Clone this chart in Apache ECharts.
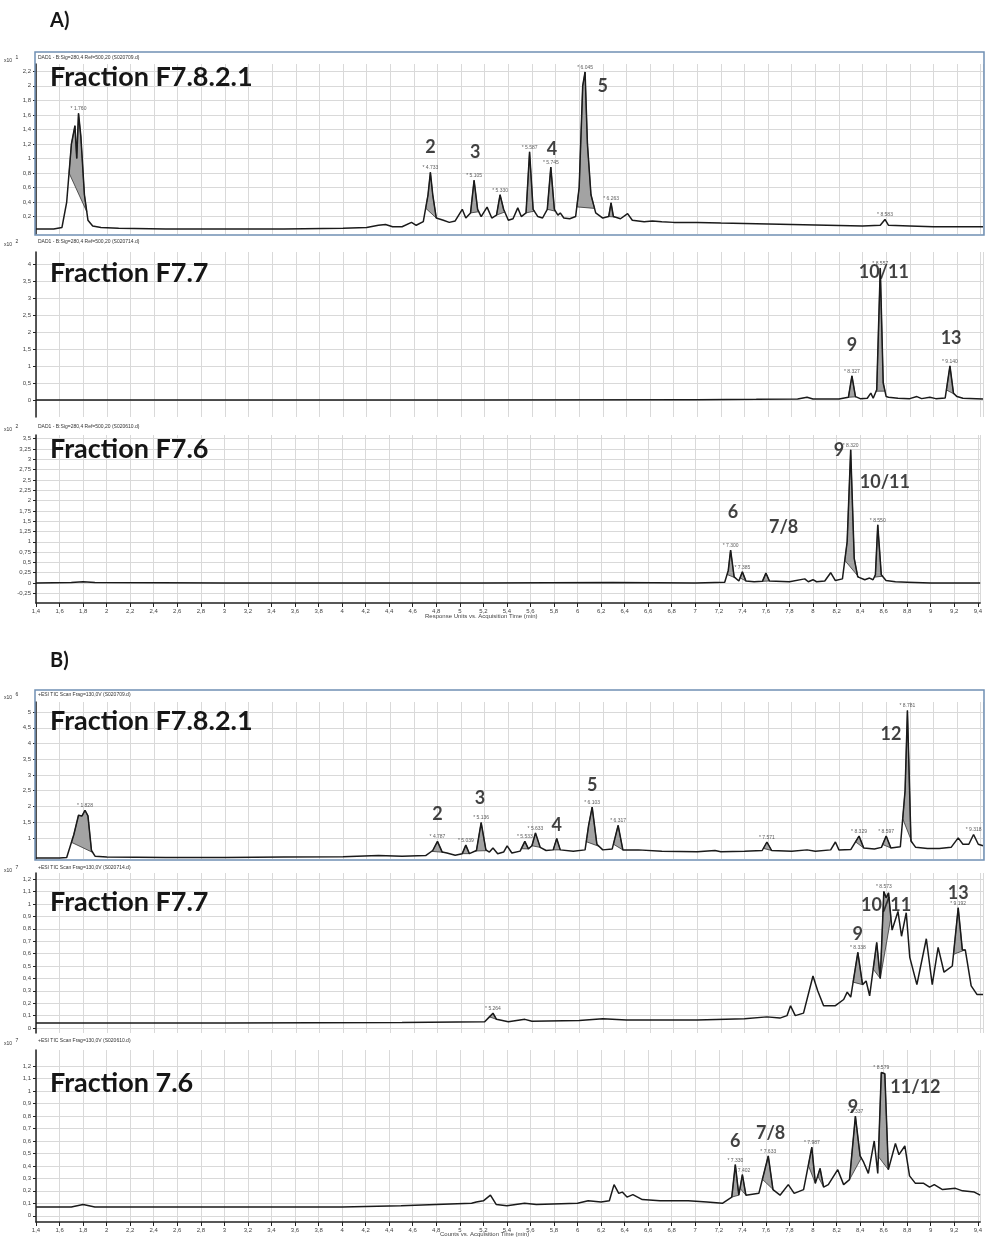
<!DOCTYPE html>
<html><head><meta charset="utf-8">
<script src="https://cdn.jsdelivr.net/npm/echarts@6/dist/echarts.min.js"></script>
<style>html,body{margin:0;padding:0;background:#fff}#c{width:985px;height:1239px}</style>
</head><body><div id="c"></div>
<script>
// ---------- DATA (time in min, signal in axis units) ----------
const xTicksMin = 1.4, xTicksMax = 9.42;

const a1Trace = [[1.40,0.03],[1.55,0.03],[1.62,0.05],[1.66,0.40],[1.70,1.20],[1.73,1.45],[1.745,1.00],[1.76,1.62],[1.78,1.30],[1.81,0.50],[1.84,0.15],[1.88,0.07],[1.95,0.05],[2.10,0.04],[2.50,0.03],[3.00,0.03],[3.50,0.03],[4.00,0.04],[4.20,0.05],[4.30,0.08],[4.36,0.09],[4.42,0.06],[4.50,0.06],[4.58,0.12],[4.62,0.08],[4.68,0.13],[4.72,0.50],[4.74,0.81],[4.76,0.50],[4.79,0.18],[4.85,0.15],[4.90,0.12],[4.95,0.14],[5.01,0.30],[5.04,0.18],[5.08,0.25],[5.11,0.70],[5.14,0.30],[5.17,0.20],[5.22,0.33],[5.26,0.18],[5.30,0.22],[5.33,0.50],[5.36,0.30],[5.40,0.15],[5.44,0.17],[5.48,0.32],[5.51,0.20],[5.55,0.25],[5.58,1.09],[5.61,0.30],[5.65,0.20],[5.69,0.18],[5.73,0.30],[5.76,0.88],[5.79,0.30],[5.82,0.22],[5.84,0.25],[5.87,0.18],[5.92,0.17],[5.97,0.20],[6.00,0.60],[6.03,2.00],[6.05,2.19],[6.07,1.20],[6.10,0.50],[6.14,0.25],[6.20,0.18],[6.25,0.20],[6.27,0.39],[6.29,0.20],[6.35,0.17],[6.41,0.24],[6.45,0.15],[6.55,0.13],[6.62,0.14],[6.70,0.13],[6.80,0.12],[7.00,0.12],[7.20,0.11],[7.50,0.10],[7.80,0.09],[8.10,0.08],[8.40,0.07],[8.55,0.08],[8.59,0.16],[8.62,0.08],[8.80,0.07],[9.00,0.06],[9.20,0.06],[9.42,0.06]];
const a1Fills = [[1.68,1.83],[4.70,4.79],[5.08,5.15],[5.30,5.37],[5.55,5.62],[5.73,5.80],[5.98,6.13],[6.25,6.30]];
const a1Rt = [[1.76,1.62,'1.760'],[4.74,0.81,'4.733'],[5.11,0.70,'5.105'],[5.33,0.50,'5.330'],[5.58,1.09,'5.587'],[5.76,0.88,'5.745'],[6.05,2.19,'6.045'],[6.27,0.39,'6.263'],[8.59,0.16,'8.583']];
const a1Names = [[4.74,1.16,'2'],[5.12,1.09,'3'],[5.77,1.13,'4'],[6.20,1.99,'5']];

const a2Trace = [[1.40,0.00],[3.00,0.00],[5.00,0.00],[7.00,0.01],[7.50,0.02],[7.85,0.03],[7.93,0.08],[7.98,0.03],[8.20,0.03],[8.28,0.08],[8.31,0.71],[8.34,0.10],[8.38,0.04],[8.44,0.05],[8.47,0.20],[8.49,0.05],[8.52,0.30],[8.55,3.88],[8.575,0.50],[8.60,0.10],[8.62,0.08],[8.70,0.05],[8.80,0.04],[8.86,0.10],[8.90,0.04],[8.97,0.08],[9.02,0.04],[9.10,0.06],[9.14,1.00],[9.17,0.20],[9.20,0.10],[9.25,0.05],[9.42,0.03]];
const a2Fills = [[8.28,8.345],[8.515,8.59],[9.11,9.18]];
const a2Rt = [[8.31,0.71,'8.327'],[8.55,3.88,'8.557'],[9.14,1.00,'9.140']];
const a2Names = [[8.31,1.60,'9'],[8.58,3.76,'10/11'],[9.15,1.82,'13']];

const a3Trace = [[1.40,0.00],[1.70,0.01],[1.80,0.03],[1.90,0.01],[3.00,0.00],[5.20,0.00],[6.30,0.01],[7.00,0.00],[7.25,0.02],[7.28,0.30],[7.30,0.80],[7.33,0.15],[7.37,0.05],[7.40,0.27],[7.43,0.05],[7.50,0.03],[7.57,0.04],[7.60,0.24],[7.63,0.05],[7.80,0.03],[7.93,0.10],[7.96,0.03],[8.00,0.08],[8.03,0.03],[8.10,0.05],[8.15,0.25],[8.19,0.06],[8.25,0.10],[8.29,1.00],[8.32,3.23],[8.35,0.60],[8.38,0.15],[8.44,0.08],[8.48,0.12],[8.51,0.08],[8.53,0.20],[8.55,1.41],[8.58,0.20],[8.62,0.06],[8.70,0.03],[8.80,0.02],[9.00,0.00],[9.42,0.00]];
const a3Fills = [[7.27,7.34],[7.38,7.43],[7.57,7.63],[8.27,8.39],[8.52,8.59]];
const a3Rt = [[7.30,0.80,'7.300'],[7.40,0.27,'7.385'],[8.32,3.23,'8.320'],[8.55,1.41,'8.550']];
const a3Names = [[7.32,1.72,'6'],[7.75,1.36,'7/8'],[8.22,3.23,'9'],[8.61,2.45,'10/11']];

const b1Trace = [[1.40,0.36],[1.60,0.36],[1.66,0.38],[1.72,1.10],[1.76,1.72],[1.79,1.70],[1.815,1.88],[1.84,1.70],[1.87,0.60],[1.90,0.42],[2.00,0.39],[2.50,0.38],[3.00,0.38],[3.50,0.39],[4.00,0.40],[4.30,0.44],[4.50,0.42],[4.70,0.44],[4.76,0.60],[4.80,0.89],[4.84,0.55],[4.88,0.52],[4.95,0.45],[5.01,0.50],[5.04,0.77],[5.07,0.50],[5.13,0.60],[5.17,1.49],[5.21,0.62],[5.24,0.55],[5.27,0.68],[5.31,0.50],[5.36,0.55],[5.39,0.75],[5.43,0.52],[5.50,0.58],[5.54,0.89],[5.57,0.65],[5.60,0.75],[5.63,1.16],[5.67,0.70],[5.72,0.60],[5.78,0.62],[5.81,0.98],[5.84,0.62],[5.95,0.58],[6.05,0.62],[6.08,1.40],[6.11,1.98],[6.15,0.80],[6.20,0.62],[6.28,0.65],[6.33,1.40],[6.37,0.62],[6.50,0.62],[6.70,0.58],[7.00,0.56],[7.15,0.60],[7.20,0.56],[7.40,0.58],[7.55,0.60],[7.59,0.87],[7.63,0.60],[7.80,0.58],[7.93,0.62],[8.00,0.58],[8.13,0.62],[8.17,0.87],[8.20,0.62],[8.30,0.63],[8.37,1.06],[8.41,0.68],[8.50,0.65],[8.56,0.70],[8.60,1.06],[8.64,0.68],[8.72,0.72],[8.76,2.50],[8.78,5.05],[8.81,0.90],[8.85,0.70],[8.95,0.66],[9.05,0.66],[9.15,0.70],[9.21,1.00],[9.25,0.80],[9.30,0.80],[9.34,1.11],[9.38,0.80],[9.42,0.75]];
const b1Fills = [[1.70,1.88],[4.75,4.85],[5.01,5.07],[5.12,5.22],[5.51,5.57],[5.60,5.67],[5.78,5.84],[6.06,6.17],[6.29,6.37],[7.56,7.63],[8.34,8.41],[8.57,8.64],[8.74,8.82]];
const b1Rt = [[1.815,1.88,'1.828'],[4.80,0.89,'4.787'],[5.04,0.77,'5.039'],[5.17,1.49,'5.136'],[5.54,0.89,'5.533'],[5.63,1.16,'5.633'],[6.11,1.98,'6.103'],[6.33,1.40,'6.317'],[7.59,0.87,'7.571'],[8.37,1.06,'8.329'],[8.60,1.06,'8.597'],[8.78,5.05,'8.781'],[9.34,1.11,'9.318']];
const b1Names = [[4.80,1.77,'2'],[5.16,2.27,'3'],[5.81,1.40,'4'],[6.11,2.67,'5'],[8.64,4.31,'12']];

const b2Trace = [[1.40,0.04],[3.00,0.04],[4.50,0.045],[5.20,0.05],[5.24,0.09],[5.27,0.12],[5.30,0.07],[5.40,0.05],[5.54,0.07],[5.60,0.055],[6.00,0.06],[6.20,0.075],[6.40,0.065],[7.00,0.065],[7.40,0.075],[7.59,0.09],[7.70,0.08],[7.76,0.10],[7.79,0.18],[7.83,0.10],[7.90,0.12],[7.98,0.42],[8.02,0.30],[8.07,0.18],[8.17,0.18],[8.24,0.23],[8.27,0.29],[8.30,0.25],[8.36,0.61],[8.40,0.35],[8.43,0.38],[8.46,0.26],[8.52,0.69],[8.55,0.40],[8.58,1.10],[8.60,1.05],[8.62,1.09],[8.65,0.79],[8.70,0.94],[8.73,0.74],[8.77,0.93],[8.80,0.57],[8.86,0.35],[8.94,0.72],[8.99,0.35],[9.04,0.65],[9.09,0.45],[9.16,0.50],[9.21,0.97],[9.245,0.63],[9.27,0.63],[9.32,0.34],[9.37,0.27],[9.42,0.27]];
const b2Fills = [[5.24,5.30],[8.32,8.40],[8.49,8.55],[8.55,8.64],[9.17,9.27]];
const b2Rt = [[5.27,0.12,'5.264'],[8.36,0.61,'8.338'],[8.58,1.10,'8.573'],[9.21,0.97,'9.192']];
const b2Names = [[8.36,0.76,'9'],[8.60,0.99,'10/11'],[9.21,1.09,'13']];

const b3Trace = [[1.40,0.07],[1.70,0.07],[1.80,0.09],[1.90,0.07],[3.00,0.07],[4.00,0.07],[4.50,0.08],[5.10,0.10],[5.14,0.11],[5.20,0.12],[5.26,0.165],[5.31,0.09],[5.40,0.08],[5.55,0.10],[5.65,0.09],[6.00,0.10],[6.09,0.12],[6.20,0.11],[6.27,0.12],[6.31,0.25],[6.35,0.18],[6.38,0.19],[6.42,0.15],[6.47,0.17],[6.55,0.13],[6.70,0.12],[6.94,0.12],[7.10,0.11],[7.23,0.10],[7.31,0.15],[7.34,0.41],[7.37,0.165],[7.40,0.33],[7.43,0.165],[7.54,0.18],[7.62,0.48],[7.66,0.21],[7.72,0.165],[7.79,0.25],[7.84,0.18],[7.92,0.21],[7.99,0.55],[8.02,0.26],[8.06,0.38],[8.09,0.23],[8.13,0.25],[8.21,0.37],[8.26,0.25],[8.31,0.29],[8.36,0.80],[8.40,0.48],[8.43,0.43],[8.47,0.34],[8.52,0.60],[8.55,0.34],[8.58,1.15],[8.61,1.14],[8.64,0.37],[8.70,0.58],[8.73,0.49],[8.78,0.56],[8.82,0.32],[8.87,0.26],[8.94,0.26],[8.99,0.23],[9.03,0.25],[9.10,0.21],[9.21,0.22],[9.27,0.20],[9.37,0.19],[9.42,0.165]];
const b3Fills = [[7.31,7.37],[7.38,7.43],[7.57,7.67],[7.96,8.02],[8.04,8.09],[8.31,8.41],[8.555,8.64]];
const b3Rt = [[7.34,0.41,'7.330'],[7.40,0.33,'7.402'],[7.62,0.48,'7.633'],[7.99,0.55,'7.987'],[8.36,0.80,'8.337'],[8.58,1.15,'8.579']];
const b3Names = [[7.34,0.60,'6'],[7.64,0.66,'7/8'],[8.34,0.87,'9'],[8.87,1.03,'11/12']];

// y-axis tick labels per panel
const a1YTicks = [0.2,0.4,0.6,0.8,1,1.2,1.4,1.6,1.8,2,2.2];
const a2YTicks = [0,0.5,1,1.5,2,2.5,3,3.5,4];
const a3YTicks = [-0.25,0,0.25,0.5,0.75,1,1.25,1.5,1.75,2,2.25,2.5,2.75,3,3.25,3.5];
const b1YTicks = [1,1.5,2,2.5,3,3.5,4,4.5,5];
const b2YTicks = [0,0.1,0.2,0.3,0.4,0.5,0.6,0.7,0.8,0.9,1,1.1,1.2];
const b3YTicks = [0,0.1,0.2,0.3,0.4,0.5,0.6,0.7,0.8,0.9,1,1.1,1.2];

// ---------- LAYOUT ----------
const panels = [
  {trace:a1Trace, fills:a1Fills, rt:a1Rt, names:a1Names, ticks:a1YTicks, top:64,  h:170, min:-0.04, max:2.30, xlab:false},
  {trace:a2Trace, fills:a2Fills, rt:a2Rt, names:a2Names, ticks:a2YTicks, top:252, h:165, min:-0.5,  max:4.35, xlab:false},
  {trace:a3Trace, fills:a3Fills, rt:a3Rt, names:a3Names, ticks:a3YTicks, top:435, h:168, min:-0.485,max:3.59, xlab:true},
  {trace:b1Trace, fills:b1Fills, rt:b1Rt, names:b1Names, ticks:b1YTicks, top:702, h:157, min:0.33,  max:5.32, xlab:false},
  {trace:b2Trace, fills:b2Fills, rt:b2Rt, names:b2Names, ticks:b2YTicks, top:873, h:160, min:-0.04, max:1.25, xlab:false},
  {trace:b3Trace, fills:b3Fills, rt:b3Rt, names:b3Names, ticks:b3YTicks, top:1050,h:172, min:-0.05, max:1.33, xlab:true}
];

const comma = v => String(+(+v).toFixed(2)).replace('.', ',');
const FONT = 'Lato, "Open Sans", sans-serif';

function interp(trace, t) {
  for (let i = 1; i < trace.length; i++) {
    if (trace[i][0] >= t) {
      const p = trace[i-1], q = trace[i];
      const f = (t - p[0]) / (q[0] - p[0] || 1);
      return p[1] + f * (q[1] - p[1]);
    }
  }
  return trace[trace.length-1][1];
}

const grids = [], xAxes = [], yAxes = [], series = [];
panels.forEach((p, i) => {
  grids.push({left:36, right:2, top:p.top, height:p.h, containLabel:false});
  xAxes.push({
    type:'value', gridIndex:i, min:xTicksMin, max:xTicksMax, interval:0.2,
    axisLine:{show:p.xlab, onZero:false, lineStyle:{color:'#222', width:1.5}},
    axisTick:{show:p.xlab, length:4, lineStyle:{color:'#222'}},
    axisLabel:{show:p.xlab, fontSize:6, color:'#444', margin:5, formatter:v => comma(v), showMaxLabel:false},
    splitLine:{show:true, lineStyle:{color:'#d9d9d9', width:1}}
  });
  yAxes.push({
    type:'value', gridIndex:i, min:p.min, max:p.max,
    axisLine:{show:true, lineStyle:{color:'#222', width:1.5}},
    axisTick:{show:true, length:3, customValues:p.ticks, lineStyle:{color:'#222'}},
    axisLabel:{show:true, fontSize:6, color:'#444', margin:5, customValues:p.ticks, formatter:v => comma(v)},
    splitLine:{show:true, lineStyle:{color:'#d9d9d9', width:1}}
  });
  const tr = p.trace;
  series.push({
    type:'custom', xAxisIndex:i, yAxisIndex:i, data:p.fills, clip:true, z:2,
    renderItem:function(params, api){
      const a = api.value(0), b = api.value(1);
      const pts = [[a, interp(tr, a)]];
      tr.forEach(q => { if (q[0] > a && q[0] < b) pts.push(q); });
      pts.push([b, interp(tr, b)]);
      return {type:'polygon', shape:{points:pts.map(q => api.coord(q))},
              style:{fill:'#a3a3a3', stroke:'#333', lineWidth:0.8}};
    }
  });
  series.push({
    type:'line', xAxisIndex:i, yAxisIndex:i, data:p.trace, showSymbol:false, z:3,
    lineStyle:{color:'#1a1a1a', width:1.5}, clip:true
  });
  series.push({
    type:'scatter', xAxisIndex:i, yAxisIndex:i, data:p.rt, symbolSize:0, z:4, silent:true,
    label:{show:true, position:'top', distance:2, fontSize:5, color:'#333', formatter:q => '* ' + q.value[2]}
  });
  series.push({
    type:'scatter', xAxisIndex:i, yAxisIndex:i, data:p.names, symbolSize:0, z:5, silent:true,
    label:{show:true, position:'inside', fontSize:18, fontWeight:'bold', color:'#111', fontFamily:FONT, formatter:q => q.value[2]}
  });
});

function header(y, text, exp) {
  return [
    {type:'text', left:4, top:y, style:{text:'{a|x10} {b|' + exp + '}', rich:{a:{fontSize:5, fill:'#333'}, b:{fontSize:5, fill:'#333', verticalAlign:'top'}}}},
    {type:'text', left:38, top:y, style:{text:text, fontSize:5, fill:'#333'}}
  ];
}
function title(y, text) {
  return {type:'text', left:50, top:y, z:20, style:{text:text, font:'bold 27px ' + FONT, fill:'#161616'}};
}

const graphics = [
  {type:'text', left:50, top:11, style:{text:'A)', font:'bold 20px ' + FONT, fill:'#161616'}},
  {type:'text', left:50, top:651, style:{text:'B)', font:'bold 20px ' + FONT, fill:'#161616'}},
  {type:'rect', shape:{x:35, y:52, width:949, height:183}, style:{fill:'none', stroke:'#7090b4', lineWidth:1.5}, z:10},
  {type:'rect', shape:{x:35, y:690, width:949, height:170}, style:{fill:'none', stroke:'#7090b4', lineWidth:1.5}, z:10},
  ...header(55, 'DAD1 - B:Sig=280,4 Ref=500,20 (S020709.d)', '1'),
  ...header(239, 'DAD1 - B:Sig=280,4 Ref=500,20 (S020714.d)', '2'),
  ...header(424, 'DAD1 - B:Sig=280,4 Ref=500,20 (S020610.d)', '2'),
  ...header(692, '+ESI TIC Scan Frag=130,0V (S020709.d)', '6'),
  ...header(865, '+ESI TIC Scan Frag=130,0V (S020714.d)', '7'),
  ...header(1038, '+ESI TIC Scan Frag=130,0V (S020610.d)', '7'),
  title(64, 'Fraction F7.8.2.1'),
  title(260, 'Fraction F7.7'),
  title(436, 'Fraction F7.6'),
  title(708, 'Fraction F7.8.2.1'),
  title(889, 'Fraction F7.7'),
  title(1070, 'Fraction 7.6'),
  {type:'text', left:425, top:613, style:{text:'Response Units vs. Acquisition Time (min)', fontSize:6, fill:'#444'}},
  {type:'text', left:440, top:1231, style:{text:'Counts vs. Acquisition Time (min)', fontSize:6, fill:'#444'}}
];

const chart = echarts.init(document.getElementById('c'), null, {renderer:'canvas'});
chart.setOption({
  animation:false,
  backgroundColor:'#ffffff',
  grid:grids, xAxis:xAxes, yAxis:yAxes, series:series, graphic:graphics
});
</script></body></html>
